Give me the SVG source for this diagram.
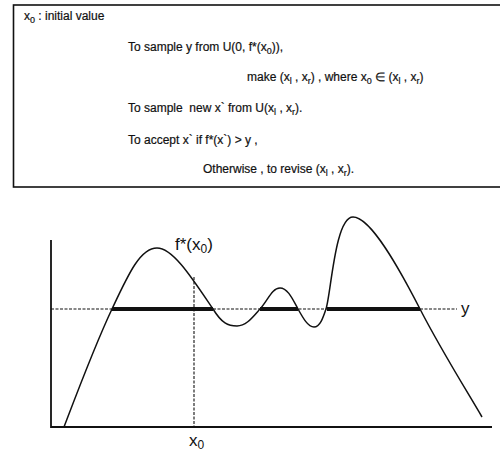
<svg xmlns="http://www.w3.org/2000/svg" width="500" height="452" viewBox="0 0 500 452">
<style>
.t{font-family:"Liberation Sans",Arial,sans-serif;font-size:12px;fill:#111;stroke:#111;stroke-width:0.2}
.sub{font-size:9px}
.lbl{font-family:"Liberation Sans",Arial,sans-serif;font-size:17px;fill:#111}
.lsub{font-size:12px}
.ax{stroke:#111;stroke-width:1.8;fill:none}
.dash{stroke:#111;stroke-width:1.1;stroke-dasharray:3 1.5;fill:none}
.curve{stroke:#111;stroke-width:1.5;fill:none}
.thick{stroke:#111;stroke-width:4;fill:none}
</style>
<rect width="500" height="452" fill="#fff"/>
<g id="algorithm-box">
<rect x="13.5" y="5" width="500" height="182" fill="none" stroke="#111" stroke-width="1.6"/>
<text class="t" x="24" y="20">x<tspan class="sub" dy="3">0</tspan><tspan dy="-3"> : initial value</tspan></text>
<text class="t" x="128" y="51">To sample y from U(0, f*(x<tspan class="sub" dy="3">0</tspan><tspan dy="-3">)),</tspan></text>
<text class="t" x="247" y="81">make (x<tspan class="sub" dy="3">l</tspan><tspan dy="-3"> , x</tspan><tspan class="sub" dy="3">r</tspan><tspan dy="-3">) , where x</tspan><tspan class="sub" dy="3">0</tspan><tspan dy="-3"> ∈ (x</tspan><tspan class="sub" dy="3">l</tspan><tspan dy="-3"> , x</tspan><tspan class="sub" dy="3">r</tspan><tspan dy="-3">)</tspan></text>
<text class="t" x="128" y="112">To sample&#160; new x` from U(x<tspan class="sub" dy="3">l</tspan><tspan dy="-3"> , x</tspan><tspan class="sub" dy="3">r</tspan><tspan dy="-3">).</tspan></text>
<text class="t" x="128" y="144">To accept x` if f*(x`) &gt; y ,</text>
<text class="t" x="203" y="173">Otherwise , to revise (x<tspan class="sub" dy="3">l</tspan><tspan dy="-3"> , x</tspan><tspan class="sub" dy="3">r</tspan><tspan dy="-3">).</tspan></text>
</g>
<g id="axes">
<path class="ax" d="M51,240 L51,427 L492,427"/>
</g>
<g id="guides">
<path class="dash" d="M51,309 L457,309"/>
<path class="dash" d="M194,277 L194,427"/>
</g>
<g id="curve">
<path class="curve" d="M64,427 C80,385 95,345 112,309 C128,275 140,248 157,248 C173,248 192,278 213,309 C222,323.5 228,326 237,326 C246,326 252,318 260,309 C268,300 272,288 280,288 C288,288 293,300 298,309 C303,318 308,327 314,327 C320,327 323,318 326,309 C331,294 335,217 353,217 C371,217 400,270 420,309 C440,348 465,388 482,417"/>
</g>
<g id="slice">
<path class="thick" d="M112,309 L213,309 M260,309 L298,309 M327,309 L420,309"/>
</g>
<g id="labels">
<text class="lbl" x="175" y="250">f*(x<tspan class="lsub" dy="3">0</tspan><tspan dy="-3">)</tspan></text>
<text class="lbl" x="461" y="314">y</text>
<text class="lbl" x="189" y="446">x<tspan class="lsub" dy="3">0</tspan></text>
</g>
</svg>
